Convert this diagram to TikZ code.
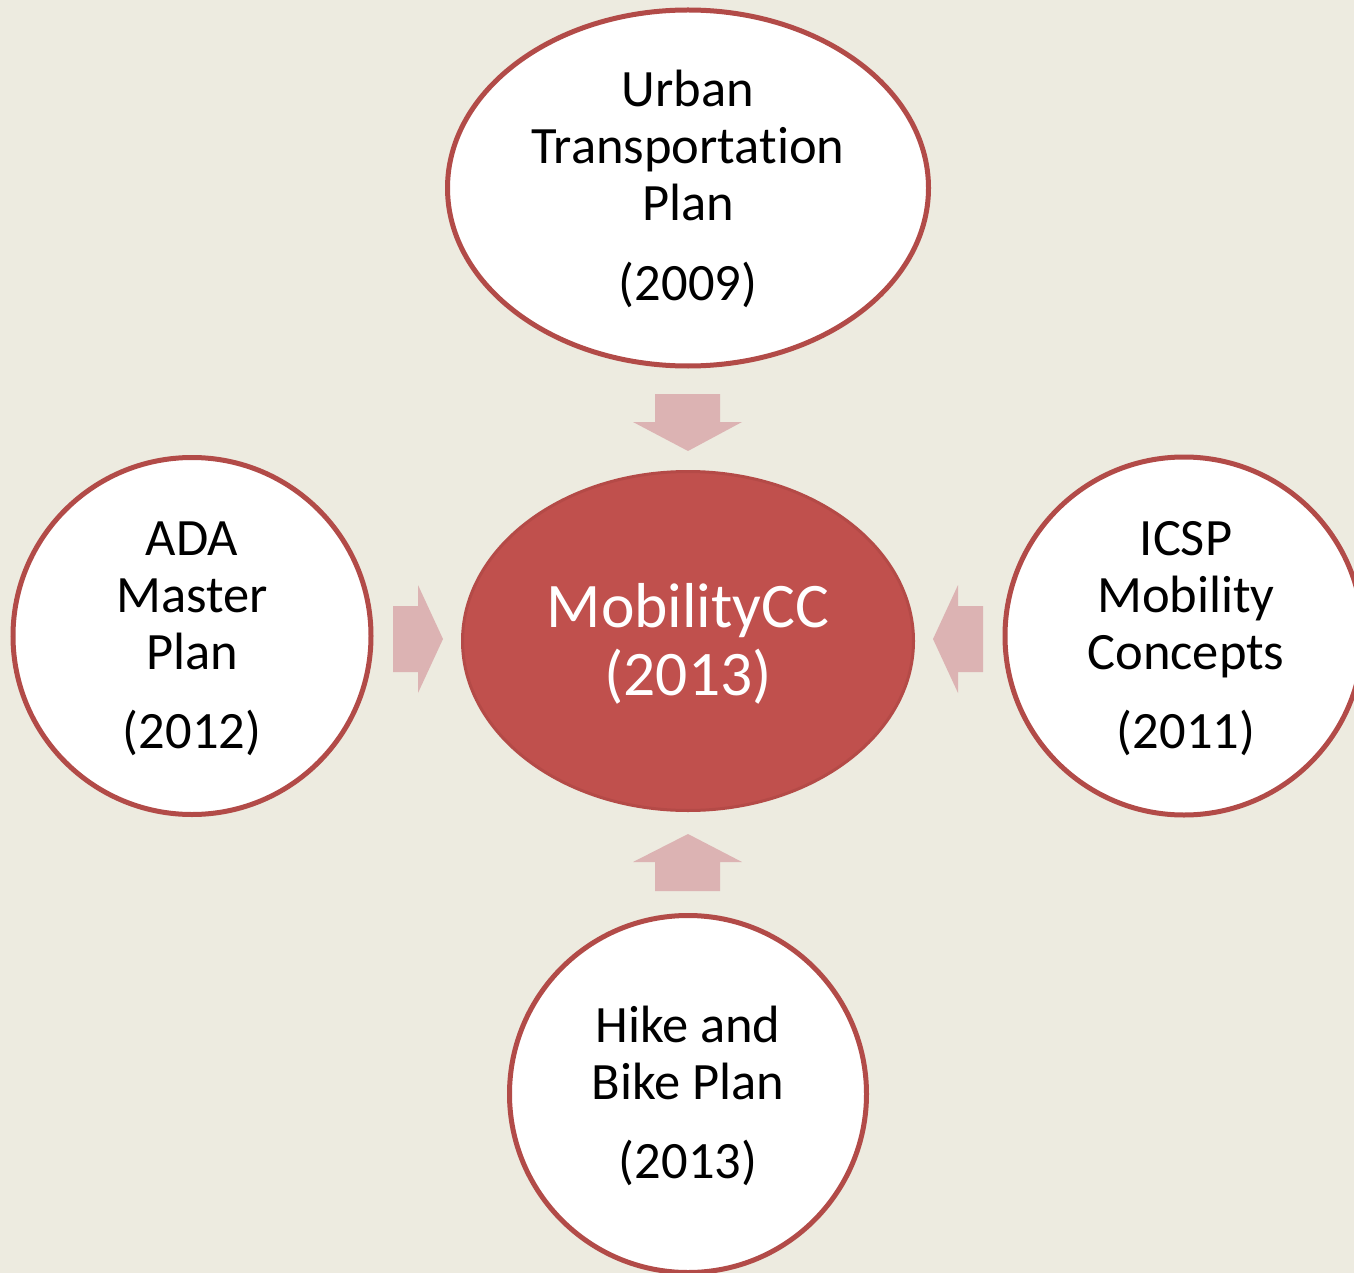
\documentclass[tikz,border=0pt]{standalone}
\usepackage{fontspec}
\setmainfont[Ligatures=NoCommon]{Carlito}
\usetikzlibrary{shapes.geometric}
\definecolor{bgc}{HTML}{EDEBE0}
\definecolor{rimc}{HTML}{B24B48}
\definecolor{hubc}{HTML}{C0504D}
\definecolor{hubrim}{HTML}{B44A47}
\definecolor{arrc}{HTML}{DCB3B3}
\tikzset{
  plan/.style={ellipse, draw=rimc, line width=5pt, fill=white, inner sep=0pt},
  hub/.style={ellipse, draw=hubrim, line width=3pt, fill=hubc, inner sep=0pt},
  txt/.style={anchor=base, inner sep=0pt, font=\fontsize{52.5}{57}\selectfont},
  hubtxt/.style={anchor=base, inner sep=0pt, text=white, font=\fontsize{63.5}{68}\selectfont},
  blockarrow/.style={fill=arrc, draw=none},
}
\begin{document}
\begin{tikzpicture}[x=1pt,y=-1pt]
\fill[bgc] (0,0) rectangle (1354,1273);
\useasboundingbox (0,0) rectangle (1354,1273);
% shapes
\node[plan, minimum width=481pt, minimum height=356pt] (top) at (688,188) {};
\node[plan, minimum width=358pt, minimum height=357pt] (left) at (192,636) {};
\node[plan, minimum width=358pt, minimum height=358pt] (right) at (1184,636) {};
\node[plan, minimum width=357pt, minimum height=357pt] (bottom) at (688,1094) {};
\node[hub, minimum width=451pt, minimum height=339pt] (hubshape) at (688,641) {};
% block arrows
\fill[blockarrow] (655,394) -- (720,394) -- (720,422) -- (742,422) -- (688,451) -- (633,422) -- (655,422) -- cycle;
\fill[blockarrow] (655,891) -- (720,891) -- (720,862) -- (742,862) -- (688,834) -- (633,862) -- (655,862) -- cycle;
\fill[blockarrow] (393,606) -- (418,606) -- (418,585) -- (443,639) -- (418,693) -- (418,672) -- (393,672) -- cycle;
\fill[blockarrow] (983,606) -- (958,606) -- (958,585) -- (933,639) -- (958,693) -- (958,672) -- (983,672) -- cycle;
% texts
\node[txt] (t1) at (688,107) {Urban};
\node[txt] (t2) at (688,164) {Transportat\kern0pt ion};
\node[txt] (t3) at (688,221) {Plan};
\node[txt] (t4) at (688,300) {(2009)};
\node[txt] (l1) at (192,555) {ADA};
\node[txt] (l2) at (192,612) {Master};
\node[txt] (l3) at (192,669) {Plan};
\node[txt] (l4) at (192,748) {(2012)};
\node[txt] (r1) at (1186,555) {ICSP};
\node[txt] (r2) at (1186,612) {Mobility};
\node[txt] (r3) at (1186,669) {Concepts};
\node[txt] (r4) at (1186,748) {(2011)};
\node[txt] (b1) at (688,1042) {Hike and};
\node[txt] (b2) at (688,1099) {Bike Plan};
\node[txt] (b3) at (688,1178) {(2013)};
\node[hubtxt] (h1) at (688,627) {MobilityCC};
\node[hubtxt] (h2) at (688,695) {(2013)};
\end{tikzpicture}
\end{document}
